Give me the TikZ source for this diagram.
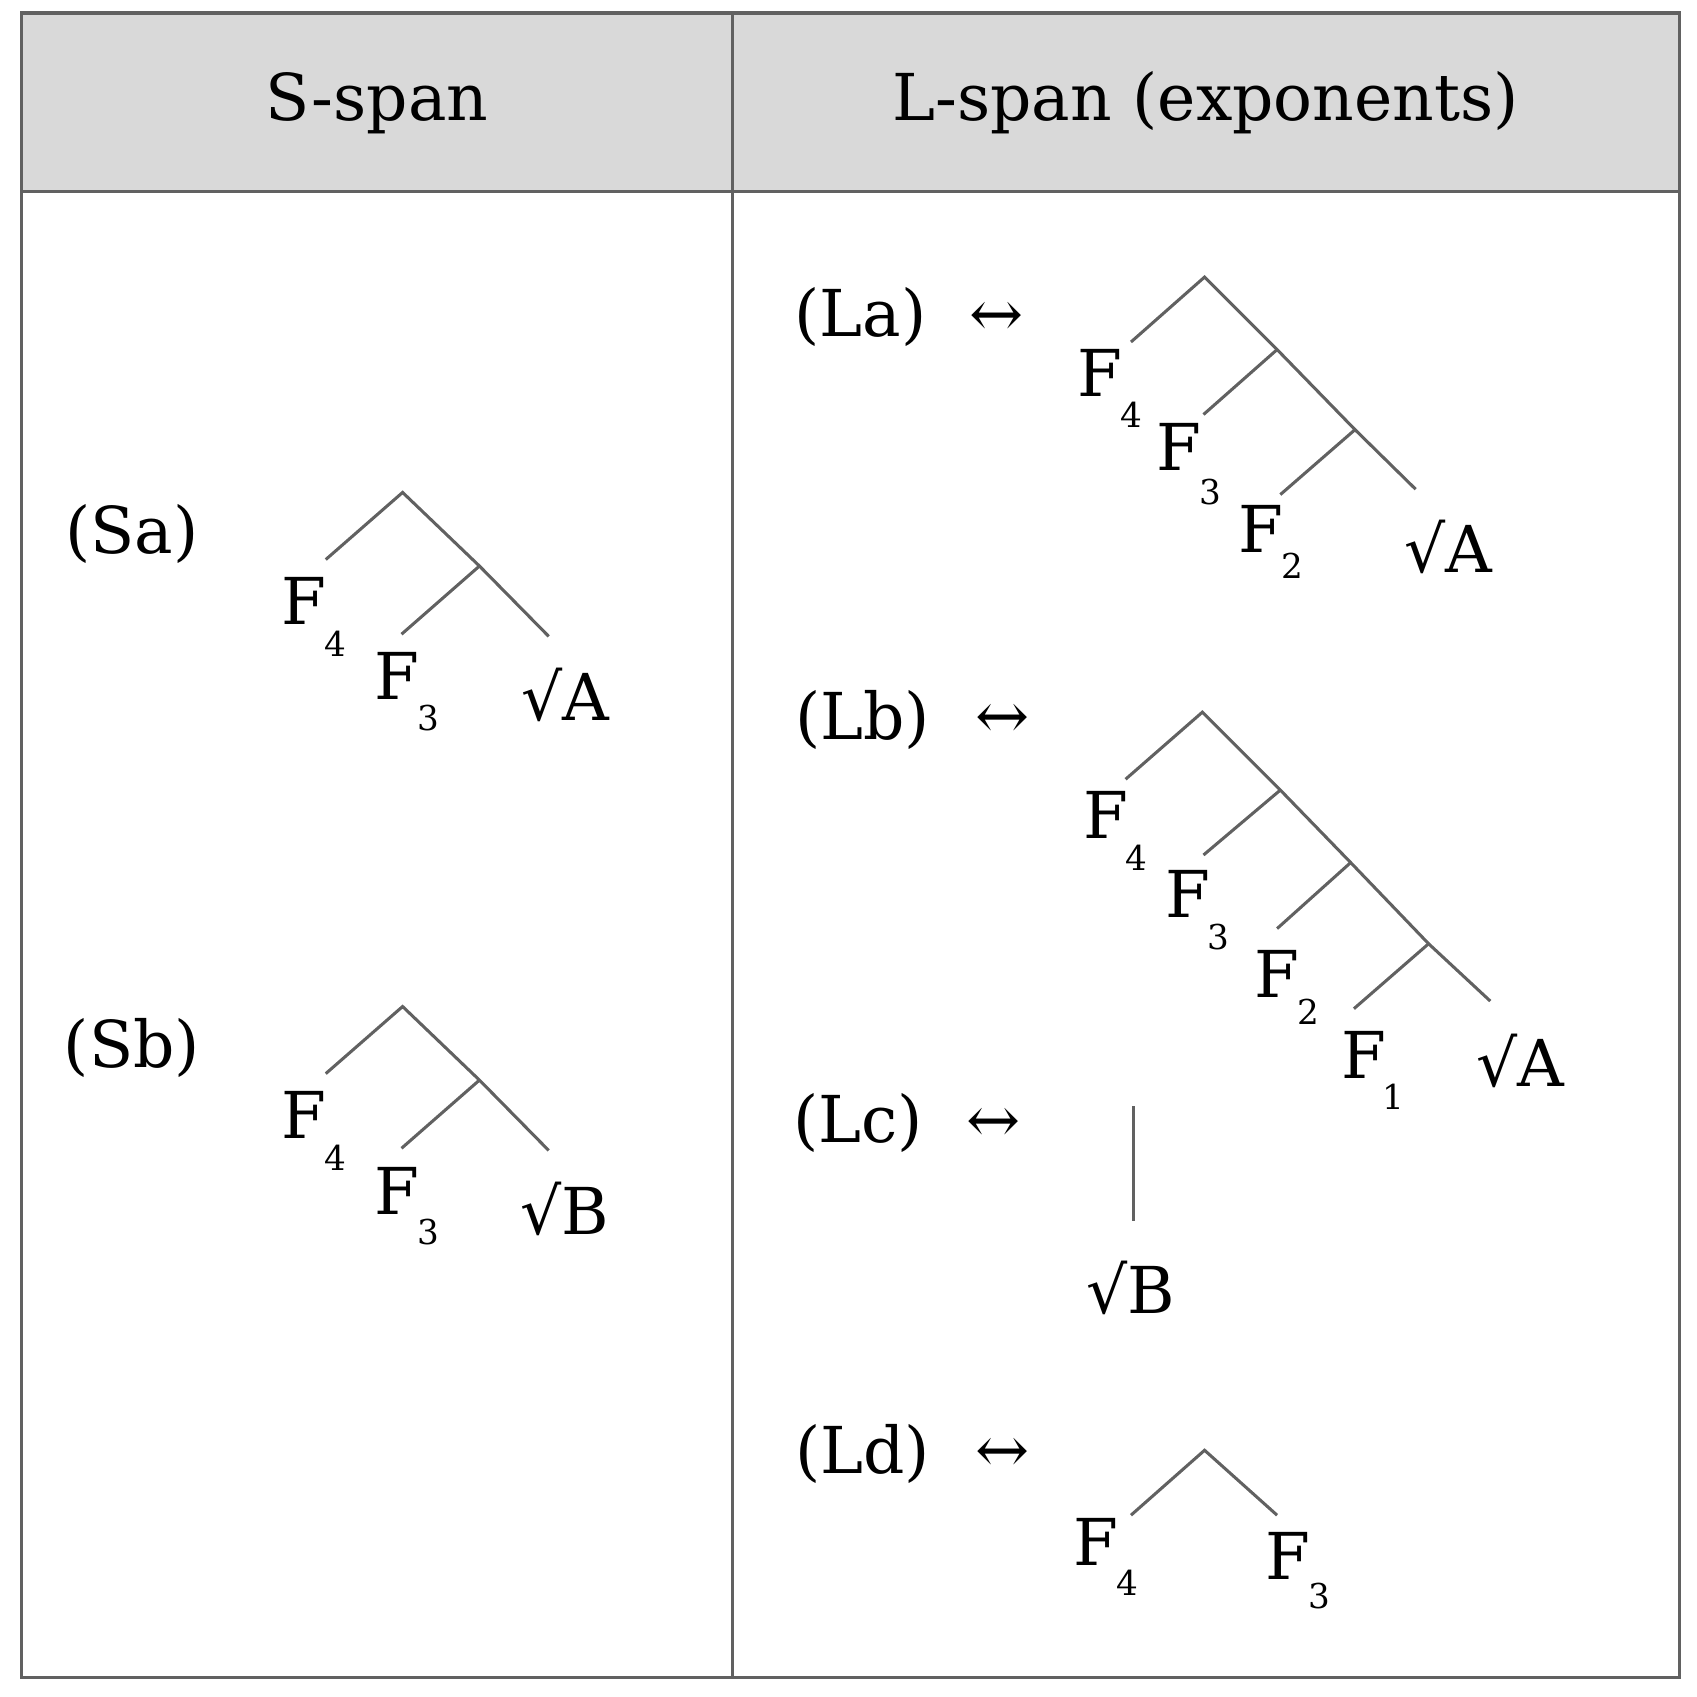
\documentclass[tikz,border=0pt]{standalone}
\usepackage{fontspec}
\setmainfont{DejaVu Serif}
\begin{document}
\begin{tikzpicture}[x=0.02cm,y=-0.02cm,
  tl/.style={font=\fontsize{34}{38}\selectfont,inner sep=0pt},
  sb/.style={font=\fontsize{18}{20}\selectfont,inner sep=0pt},
  br/.style={draw=black!62,line width=1.6pt},
  frame/.style={draw=black!62,line width=1.8pt}]
\useasboundingbox (0,0) rectangle (1568,1568);
\fill[black!15] (20,12) rectangle (1552,177);
\draw[frame] (20,12) rectangle (1552,1550);
\draw[frame] (20,177) -- (1552,177);
\draw[frame] (677,12) -- (677,1550);
\node[tl] (h1) at (348,95) {S-span};
\node[tl] (h2) at (1114,95) {L-span (exponents)};
% Sa / Sb
\foreach \nm/\dy/\rt in {Sa/0/A,Sb/475/B}{
  \node[tl] (\nm) at (122,493+\dy) {(\nm)};
  \coordinate (\nm r) at (372,455+\dy);
  \coordinate (\nm l) at (301,517+\dy);
  \coordinate (\nm m) at (443,523+\dy);
  \coordinate (\nm e) at (507,588+\dy);
  \coordinate (\nm b) at (371,586+\dy);
  \draw[br] (\nm l) -- (\nm r) -- (\nm m) -- (\nm e);
  \draw[br] (\nm m) -- (\nm b);
  \node[tl] (\nm F4) at (281,555+\dy) {F};
  \node[sb] (\nm s4) at (310,595+\dy) {4};
  \node[tl] (\nm F3) at (367,625+\dy) {F};
  \node[sb] (\nm s3) at (396,663+\dy) {3};
  \node[tl] (\nm R) at (522,642+\dy) {√\rt};
}
% La
\node[tl] (La) at (795,293) {(La)};
\node[tl] (La ar) at (921,295) {↔};
\coordinate (Lar) at (1113,256); \coordinate (Lal) at (1045,316);
\coordinate (La1) at (1180,323); \coordinate (La2) at (1252,397); \coordinate (Lae) at (1308,452);
\coordinate (La1b) at (1112,383); \coordinate (La2b) at (1183,457);
\draw[br] (Lal) -- (Lar) -- (La1) -- (La2) -- (Lae);
\draw[br] (La1) -- (La1b); \draw[br] (La2) -- (La2b);
\node[tl] (LaF4) at (1016,345) {F}; \node[sb] (Las4) at (1045,383) {4};
\node[tl] (LaF3) at (1089,413) {F}; \node[sb] (Las3) at (1118,455) {3};
\node[tl] (LaF2) at (1165,489) {F}; \node[sb] (Las2) at (1194,523) {2};
\node[tl] (LaR) at (1338,505) {√A};
% Lb
\node[tl] (Lb) at (797,665) {(Lb)};
\node[tl] (Lb ar) at (926,667) {↔};
\coordinate (Lbr) at (1111,658); \coordinate (Lbl) at (1040,720);
\coordinate (Lb1) at (1183,730); \coordinate (Lb2) at (1248,797); \coordinate (Lb3) at (1320,872); \coordinate (Lbe) at (1377,925);
\coordinate (Lb1b) at (1112,790); \coordinate (Lb2b) at (1180,858); \coordinate (Lb3b) at (1251,932);
\draw[br] (Lbl) -- (Lbr) -- (Lb1) -- (Lb2) -- (Lb3) -- (Lbe);
\draw[br] (Lb1) -- (Lb1b); \draw[br] (Lb2) -- (Lb2b); \draw[br] (Lb3) -- (Lb3b);
\node[tl] (LbF4) at (1022,753) {F}; \node[sb] (Lbs4) at (1050,793) {4};
\node[tl] (LbF3) at (1098,826) {F}; \node[sb] (Lbs3) at (1126,866) {3};
\node[tl] (LbF2) at (1180,900) {F}; \node[sb] (Lbs2) at (1209,935) {2};
\node[tl] (LbF1) at (1260,975) {F}; \node[sb] (Lbs1) at (1287,1013) {1};
\node[tl] (LbR) at (1405,980) {√A};
% Lc
\node[tl] (Lc) at (793,1038) {(Lc)};
\node[tl] (Lc ar) at (918,1040) {↔};
\coordinate (Lct) at (1047,1022); \coordinate (Lcb) at (1047,1128);
\draw[br] (Lct) -- (Lcb);
\node[tl] (LcR) at (1045,1190) {√B};
% Ld
\node[tl] (Ld) at (797,1343) {(Ld)};
\node[tl] (Ld ar) at (926,1345) {↔};
\coordinate (Ldr) at (1113,1340); \coordinate (Ldl) at (1045,1400); \coordinate (Ldrr) at (1180,1400);
\draw[br] (Ldl) -- (Ldr) -- (Ldrr);
\node[tl] (LdF4) at (1013,1425) {F}; \node[sb] (Lds4) at (1042,1462) {4};
\node[tl] (LdF3) at (1190,1438) {F}; \node[sb] (Lds3) at (1219,1475) {3};
\end{tikzpicture}
\end{document}
